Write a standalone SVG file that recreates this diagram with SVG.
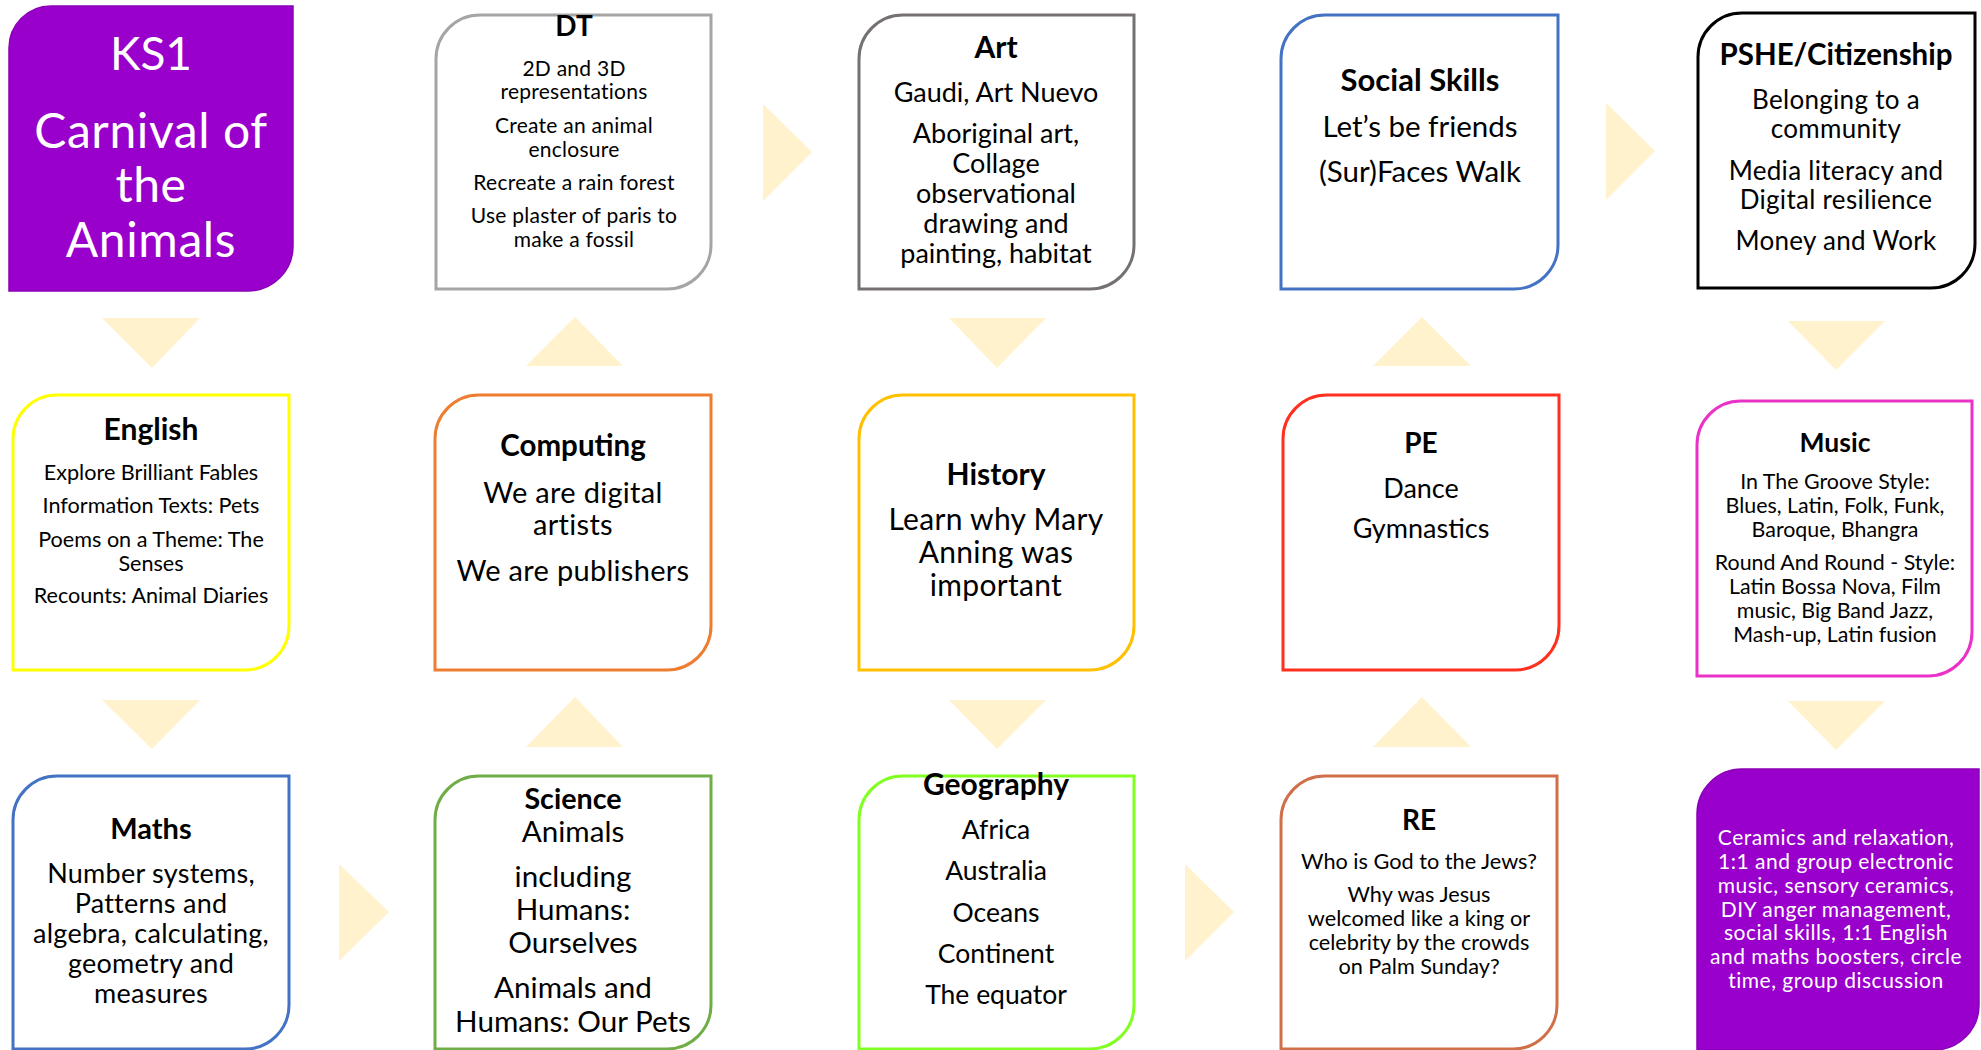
<svg xmlns="http://www.w3.org/2000/svg" width="1981" height="1050" viewBox="0 0 1981 1050">
<defs>
<style>
.bx{fill:#fff;stroke-width:3}
.pu{fill:#9900CC;stroke:#8A00B8;stroke-width:1.5}
.ar{fill:#FFF2CC}
text{font-family:Lato,"Liberation Sans",sans-serif;text-anchor:middle;fill:#000}
.t{font-weight:bold}
.w{fill:#fff}
</style>
</defs>
<rect width="1981" height="1050" fill="#fff"/>
<g id="connectors">
<polygon class="ar" points="102,318 200,318 152,368"/>
<polygon class="ar" points="526,366 623,366 575,317"/>
<polygon class="ar" points="763,104 763,201 812,152"/>
<polygon class="ar" points="949,318 1046,318 997,368"/>
<polygon class="ar" points="1373,366 1471,366 1422,317"/>
<polygon class="ar" points="1606,103 1606,200 1655,151"/>
<polygon class="ar" points="1788,321 1885,321 1836,370"/>
<polygon class="ar" points="102,700 200,700 152,749"/>
<polygon class="ar" points="526,747 623,747 575,697"/>
<polygon class="ar" points="949,700 1046,700 997,749"/>
<polygon class="ar" points="1373,747 1471,747 1422,697"/>
<polygon class="ar" points="1788,701 1885,701 1836,750"/>
<polygon class="ar" points="339,864 339,961 389,912"/>
<polygon class="ar" points="1185,864 1185,961 1234,912"/>
</g>
<g id="ks1">
<path class="pu" d="M51,6 H293 V246 A45,45 0 0 1 248,291 H9 V48 A42,42 0 0 1 51,6 Z"/>
<text class="w" x="151" y="70" font-size="46">KS1</text>
<g font-size="48" letter-spacing="0.6">
<text class="w" x="151" y="148">Carnival of</text>
<text class="w" x="151" y="202">the</text>
<text class="w" x="151" y="257">Animals</text>
</g>
</g>
<g id="dt">
<path class="bx" stroke="#A5A5A5" d="M480,15 H711 V245 A44,44 0 0 1 667,289 H436 V59 A44,44 0 0 1 480,15 Z"/>
<text class="t" x="574" y="36" font-size="28">DT</text>
<g font-size="21" letter-spacing="0.25">
<text x="574" y="75.5">2D and 3D</text>
<text x="574" y="99">representations</text>
<text x="574" y="133">Create an animal</text>
<text x="574" y="157">enclosure</text>
<text x="574" y="190">Recreate a rain forest</text>
<text x="574" y="223">Use plaster of paris to</text>
<text x="574" y="247">make a fossil</text>
</g>
</g>
<g id="art">
<path class="bx" stroke="#767171" d="M903,15 H1134 V245 A44,44 0 0 1 1090,289 H859 V59 A44,44 0 0 1 903,15 Z"/>
<text class="t" x="996" y="58" font-size="30">Art</text>
<g font-size="27">
<text x="996" y="102">Gaudi, Art Nuevo</text>
<text x="996" y="143">Aboriginal art,</text>
<text x="996" y="173">Collage</text>
<text x="996" y="203">observational</text>
<text x="996" y="233">drawing and</text>
<text x="996" y="263">painting, habitat</text>
</g>
</g>
<g id="social-skills">
<path class="bx" stroke="#4472C4" d="M1325,15 H1558 V245 A44,44 0 0 1 1514,289 H1281 V59 A44,44 0 0 1 1325,15 Z"/>
<text class="t" x="1420" y="91" font-size="31">Social Skills</text>
<text x="1420" y="137" font-size="29.5">Let’s be friends</text>
<text x="1420" y="182" font-size="29.5">(Sur)Faces Walk</text>
</g>
<g id="pshe">
<path class="bx" stroke="#000" d="M1742,13 H1975 V244 A44,44 0 0 1 1931,288 H1698 V57 A44,44 0 0 1 1742,13 Z"/>
<text class="t" x="1836" y="65" font-size="29.5">PSHE/Citizenship</text>
<g font-size="26" letter-spacing="0.3">
<text x="1836" y="109">Belonging to a</text>
<text x="1836" y="138">community</text>
<text x="1836" y="180">Media literacy and</text>
<text x="1836" y="209">Digital resilience</text>
<text x="1836" y="250">Money and Work</text>
</g>
</g>
<g id="english">
<path class="bx" stroke="#FFFF00" d="M57,395 H289 V626 A44,44 0 0 1 245,670 H13 V439 A44,44 0 0 1 57,395 Z"/>
<text class="t" x="151" y="440" font-size="30">English</text>
<g font-size="21.6">
<text x="151" y="480">Explore Brilliant Fables</text>
<text x="151" y="513">Information Texts: Pets</text>
<text x="151" y="547">Poems on a Theme: The</text>
<text x="151" y="571">Senses</text>
<text x="151" y="603">Recounts: Animal Diaries</text>
</g>
</g>
<g id="computing">
<path class="bx" stroke="#ED7D31" d="M479,395 H711 V626 A44,44 0 0 1 667,670 H435 V439 A44,44 0 0 1 479,395 Z"/>
<text class="t" x="573" y="456" font-size="29.5">Computing</text>
<g font-size="29" letter-spacing="0.3">
<text x="573" y="503">We are digital</text>
<text x="573" y="535">artists</text>
<text x="573" y="581">We are publishers</text>
</g>
</g>
<g id="history">
<path class="bx" stroke="#FFC000" d="M903,395 H1134 V626 A44,44 0 0 1 1090,670 H859 V439 A44,44 0 0 1 903,395 Z"/>
<text class="t" x="996" y="485" font-size="30">History</text>
<g font-size="30" letter-spacing="0.3">
<text x="996" y="530">Learn why Mary</text>
<text x="996" y="563">Anning was</text>
<text x="996" y="596">important</text>
</g>
</g>
<g id="pe">
<path class="bx" stroke="#FF3020" d="M1327,395 H1559 V626 A44,44 0 0 1 1515,670 H1283 V439 A44,44 0 0 1 1327,395 Z"/>
<text class="t" x="1421" y="453" font-size="28">PE</text>
<text x="1421" y="498" font-size="27">Dance</text>
<text x="1421" y="538" font-size="27">Gymnastics</text>
</g>
<g id="music">
<path class="bx" stroke="#EB32C8" d="M1741,401 H1972 V632 A44,44 0 0 1 1928,676 H1697 V445 A44,44 0 0 1 1741,401 Z"/>
<text class="t" x="1835" y="452" font-size="26.5">Music</text>
<g font-size="21.4">
<text x="1835" y="489">In The Groove Style:</text>
<text x="1835" y="513">Blues, Latin, Folk, Funk,</text>
<text x="1835" y="537">Baroque, Bhangra</text>
<text x="1835" y="570">Round And Round - Style:</text>
<text x="1835" y="594">Latin Bossa Nova, Film</text>
<text x="1835" y="618">music, Big Band Jazz,</text>
<text x="1835" y="642">Mash-up, Latin fusion</text>
</g>
</g>
<g id="maths">
<path class="bx" stroke="#4472C4" d="M57,776 H289 V1005 A44,44 0 0 1 245,1049 H13 V820 A44,44 0 0 1 57,776 Z"/>
<text class="t" x="151" y="839" font-size="29">Maths</text>
<g font-size="27" letter-spacing="0.25">
<text x="151" y="883">Number systems,</text>
<text x="151" y="913">Patterns and</text>
<text x="151" y="943">algebra, calculating,</text>
<text x="151" y="973">geometry and</text>
<text x="151" y="1003">measures</text>
</g>
</g>
<g id="science">
<path class="bx" stroke="#70AD47" d="M479,776 H711 V1005 A44,44 0 0 1 667,1049 H435 V820 A44,44 0 0 1 479,776 Z"/>
<text class="t" x="573" y="809" font-size="28.7">Science</text>
<g font-size="29.6">
<text x="573" y="842">Animals</text>
<text x="573" y="887">including</text>
<text x="573" y="920">Humans:</text>
<text x="573" y="953">Ourselves</text>
<text x="573" y="998">Animals and</text>
<text x="573" y="1032">Humans: Our Pets</text>
</g>
</g>
<g id="geography">
<path class="bx" stroke="#80FF20" d="M903,776 H1134 V1005 A44,44 0 0 1 1090,1049 H859 V820 A44,44 0 0 1 903,776 Z"/>
<text class="t" x="996" y="795" font-size="30">Geography</text>
<g font-size="26.5">
<text x="996" y="839">Africa</text>
<text x="996" y="880">Australia</text>
<text x="996" y="922">Oceans</text>
<text x="996" y="963">Continent</text>
<text x="996" y="1004">The equator</text>
</g>
</g>
<g id="re">
<path class="bx" stroke="#D0704A" d="M1325,776 H1557 V1005 A44,44 0 0 1 1513,1049 H1281 V820 A44,44 0 0 1 1325,776 Z"/>
<text class="t" x="1419" y="830" font-size="28">RE</text>
<g font-size="21.7">
<text x="1419" y="869">Who is God to the Jews?</text>
<text x="1419" y="902">Why was Jesus</text>
<text x="1419" y="926">welcomed like a king or</text>
<text x="1419" y="950">celebrity by the crowds</text>
<text x="1419" y="974">on Palm Sunday?</text>
</g>
</g>
<g id="interventions">
<path class="pu" d="M1742,769 H1979 V1005 A45,45 0 0 1 1934,1050 H1697 V814 A45,45 0 0 1 1742,769 Z"/>
<g class="w" font-size="21" letter-spacing="0.5">
<text class="w" x="1836" y="845">Ceramics and relaxation,</text>
<text class="w" x="1836" y="869">1:1 and group electronic</text>
<text class="w" x="1836" y="893">music, sensory ceramics,</text>
<text class="w" x="1836" y="916.5">DIY anger management,</text>
<text class="w" x="1836" y="940">social skills, 1:1 English</text>
<text class="w" x="1836" y="964">and maths boosters, circle</text>
<text class="w" x="1836" y="988">time, group discussion</text>
</g>
</g>
</svg>
